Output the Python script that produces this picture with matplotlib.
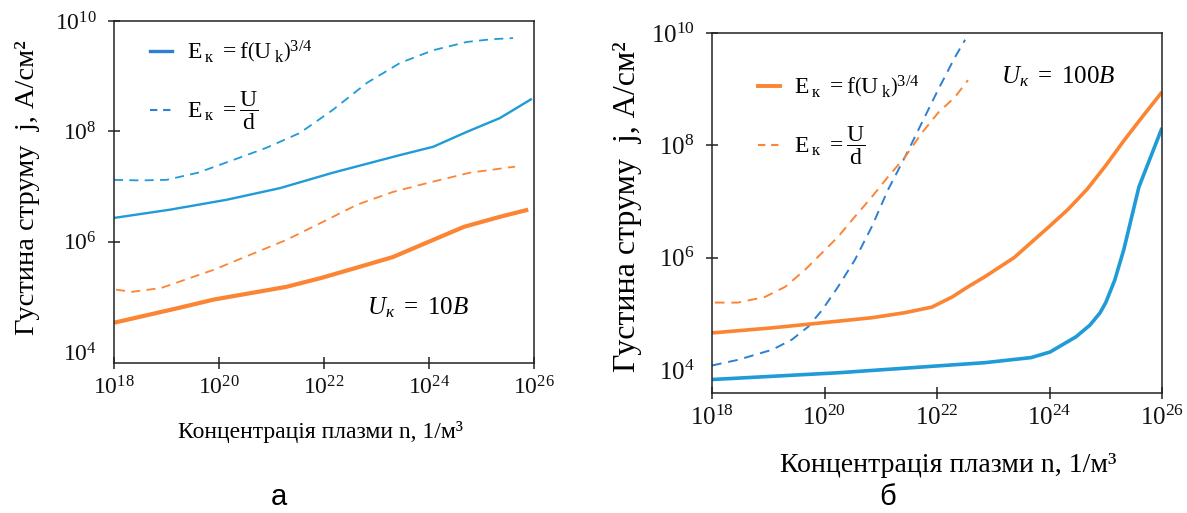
import numpy as np
import matplotlib
matplotlib.use("Agg")
import matplotlib.pyplot as plt
from matplotlib.lines import Line2D
from matplotlib.ticker import FixedLocator, FixedFormatter, NullLocator

plt.rcParams['font.family'] = ['Liberation Serif', 'DejaVu Serif']
plt.rcParams['mathtext.fontset'] = 'custom'
plt.rcParams['mathtext.rm'] = 'Liberation Serif'
plt.rcParams['mathtext.it'] = 'Liberation Serif:italic'
plt.rcParams['mathtext.bf'] = 'Liberation Serif:bold'

# ---------------- data (log10 values) ----------------
# panel a, U_k = 10 V
a_blue_dash_x = [18.0, 18.5, 19.0, 19.6, 20.27, 20.9, 21.54, 22.17, 22.82, 23.45, 24.08, 24.72, 25.2, 25.6]
a_blue_dash_y = [7.12, 7.11, 7.12, 7.25, 7.48, 7.70, 7.97, 8.39, 8.88, 9.24, 9.47, 9.62, 9.67, 9.69]
a_blue_sol_x = [18.0, 19.07, 20.15, 21.16, 22.17, 23.45, 24.08, 24.72, 25.35, 25.96]
a_blue_sol_y = [6.43, 6.58, 6.76, 6.97, 7.25, 7.57, 7.72, 7.99, 8.24, 8.59]
a_or_dash_x = [18.04, 18.34, 18.90, 19.90, 20.59, 21.28, 21.94, 22.63, 23.31, 24.00, 24.78, 25.64]
a_or_dash_y = [5.13, 5.09, 5.16, 5.49, 5.76, 6.03, 6.34, 6.67, 6.90, 7.07, 7.25, 7.36]
a_or_sol_x = [18.0, 19.24, 19.90, 21.28, 21.94, 22.63, 23.31, 24.00, 24.67, 25.35, 25.89]
a_or_sol_y = [4.53, 4.80, 4.95, 5.18, 5.34, 5.53, 5.72, 6.00, 6.27, 6.45, 6.58]

# panel b, U_k = 100 V
b_blue_dash_x = [18.0, 18.46, 19.07, 19.42, 19.71, 19.96, 20.24, 20.54, 20.84, 21.13, 21.43,
                 21.73, 22.02, 22.32, 22.5]
b_blue_dash_y = [4.08, 4.18, 4.36, 4.54, 4.77, 5.07, 5.48, 5.96, 6.55, 7.21, 7.79,
                 8.40, 8.99, 9.57, 9.88]
b_or_dash_x = [18.05, 18.46, 18.94, 19.30, 19.65, 19.96, 20.24, 20.54, 20.84, 21.13, 21.43,
               21.73, 22.02, 22.32, 22.55]
b_or_dash_y = [5.20, 5.20, 5.30, 5.48, 5.78, 6.09, 6.37, 6.73, 7.08, 7.44, 7.79,
               8.22, 8.58, 8.86, 9.16]
b_or_sol_x = [18.0, 19.07, 19.96, 20.84, 21.43, 21.91, 22.27, 22.55, 22.85, 23.37, 23.99,
              24.33, 24.67, 25.0, 25.32, 25.66, 26.0]
b_or_sol_y = [4.66, 4.75, 4.84, 4.93, 5.02, 5.12, 5.30, 5.48, 5.66, 6.00, 6.55,
              6.86, 7.22, 7.64, 8.08, 8.52, 8.95]
b_blue_sol_x = [18.0, 20.24, 22.85, 23.67, 24.01, 24.47, 24.72, 24.9, 25.0, 25.16, 25.32,
                25.59, 26.0]
b_blue_sol_y = [3.83, 3.95, 4.13, 4.22, 4.32, 4.59, 4.80, 5.02, 5.20, 5.60, 6.14,
                7.26, 8.31]

x_ticks = [18, 20, 22, 24, 26]
y_ticks = [4, 6, 8, 10]
x_tick_labels = [r'$10^{18}$', r'$10^{20}$', r'$10^{22}$', r'$10^{24}$', r'$10^{26}$']
y_tick_labels = [r'$10^{4}$', r'$10^{6}$', r'$10^{8}$', r'$10^{10}$']

leg_labels = [r'$\mathrm{E}_{\;\mathrm{к}}\ =\mathrm{f}\left(\mathrm{U}_{\;\mathrm{k}}\right)^{3/4}$',
              r'$\mathrm{E}_{\;\mathrm{к}}\ =\dfrac{\mathrm{U}}{\mathrm{d}}$']
ylabel = 'Густина струму  j, А/см²'
xlabel = 'Концентрація плазми n, 1/м³'

BLUE = '#1f9bd7'
BLUE_D = '#2d7fd2'
ORANGE = '#fb8533'
W = 1187
H = 513

fig = plt.figure(figsize=(W / 100, H / 100), dpi=100)
ax1 = fig.add_axes([114 / W, 1 - 363 / H, 420 / W, 342 / H])
ax2 = fig.add_axes([712 / W, 1 - 393 / H, 450 / W, 360 / H])

def p(v):
    return np.power(10.0, np.asarray(v, dtype=float))

ax1.plot(p(a_blue_dash_x), p(a_blue_dash_y), color=BLUE, lw=1.3, dashes=(5, 3.5))
ax1.plot(p(a_blue_sol_x), p(a_blue_sol_y), color=BLUE, lw=1.7, solid_capstyle='butt')
ax1.plot(p(a_or_dash_x), p(a_or_dash_y), color=ORANGE, lw=1.3, dashes=(5, 3.5))
ax1.plot(p(a_or_sol_x), p(a_or_sol_y), color=ORANGE, lw=3.0, solid_capstyle='butt')

ax2.plot(p(b_blue_dash_x), p(b_blue_dash_y), color=BLUE_D, lw=1.4, dashes=(5, 3.5))
ax2.plot(p(b_or_dash_x), p(b_or_dash_y), color=ORANGE, lw=1.4, dashes=(5, 3.5))
ax2.plot(p(b_or_sol_x), p(b_or_sol_y), color=ORANGE, lw=2.6, solid_capstyle='butt')
ax2.plot(p(b_blue_sol_x), p(b_blue_sol_y), color=BLUE, lw=2.6, solid_capstyle='butt')

for ax, ylo, fs in ((ax1, 3.80, 17), (ax2, 3.59, 18)):
    ax.set_xscale('log')
    ax.set_yscale('log')
    ax.set_xlim(1e18, 1e26)
    ax.set_ylim(10.0 ** ylo, 1e10)
    ax.xaxis.set_major_locator(FixedLocator(p(x_ticks)))
    ax.xaxis.set_major_formatter(FixedFormatter(x_tick_labels))
    ax.yaxis.set_major_locator(FixedLocator(p(y_ticks)))
    ax.yaxis.set_major_formatter(FixedFormatter(y_tick_labels))
    ax.xaxis.set_minor_locator(NullLocator())
    ax.yaxis.set_minor_locator(NullLocator())
    ax.tick_params(axis='both', direction='inout', length=9, width=1.1, colors='#222222',
                   labelsize=fs, labelcolor='#111111')
    ax.tick_params(axis='y', pad=8)
    ax.tick_params(axis='x', pad=5)
    for s in ax.spines.values():
        s.set_linewidth(1.1)
        s.set_color('#222222')
    ax.yaxis.get_major_ticks()[0].tick1line.set_visible(False)
    ax.yaxis.get_major_ticks()[0].tick2line.set_visible(False)

h1 = [Line2D([], [], color=BLUE_D, lw=2.4), Line2D([], [], color=BLUE_D, lw=1.5, dashes=(3.5, 2.8))]
ax1.legend(h1, leg_labels, loc='upper left', bbox_to_anchor=(0.0857, 0.948), frameon=False,
           fontsize=17, handlelength=0.95, handletextpad=0.6, labelspacing=1.05,
           borderpad=0, borderaxespad=0)
h2 = [Line2D([], [], color=ORANGE, lw=2.8), Line2D([], [], color=ORANGE, lw=1.5, dashes=(3.5, 2.8))]
ax2.legend(h2, leg_labels, loc='upper left', bbox_to_anchor=(0.102, 0.888), frameon=False,
           fontsize=17, handlelength=0.95, handletextpad=0.6, labelspacing=1.05,
           borderpad=0, borderaxespad=0)

fig.text(418 / W, 1 - 308 / H, r'$U_{к}\ =\ 10B$', fontsize=18, ha='center', va='center')
fig.text(1058 / W, 1 - 77 / H, r'$U_{к}\ =\ 100B$', fontsize=18, ha='center', va='center')

fig.text(28 / W, 1 - 188 / H, ylabel, rotation=90, fontsize=20.5, ha='center', va='center')
fig.text(627 / W, 1 - 207 / H, ylabel, rotation=90, fontsize=23, ha='center', va='center')
fig.text(320 / W, 1 - 432 / H, xlabel, fontsize=17, ha='center', va='center')
fig.text(948 / W, 1 - 466 / H, xlabel, fontsize=20, ha='center', va='center')

fig.text(279 / W, 1 - 497 / H, 'а', fontsize=21, family='Liberation Sans', ha='center', va='center')
fig.text(888 / W, 1 - 497 / H, 'б', fontsize=21, family='Liberation Sans', ha='center', va='center')

fig.savefig('out.png', dpi=100, facecolor='white')
